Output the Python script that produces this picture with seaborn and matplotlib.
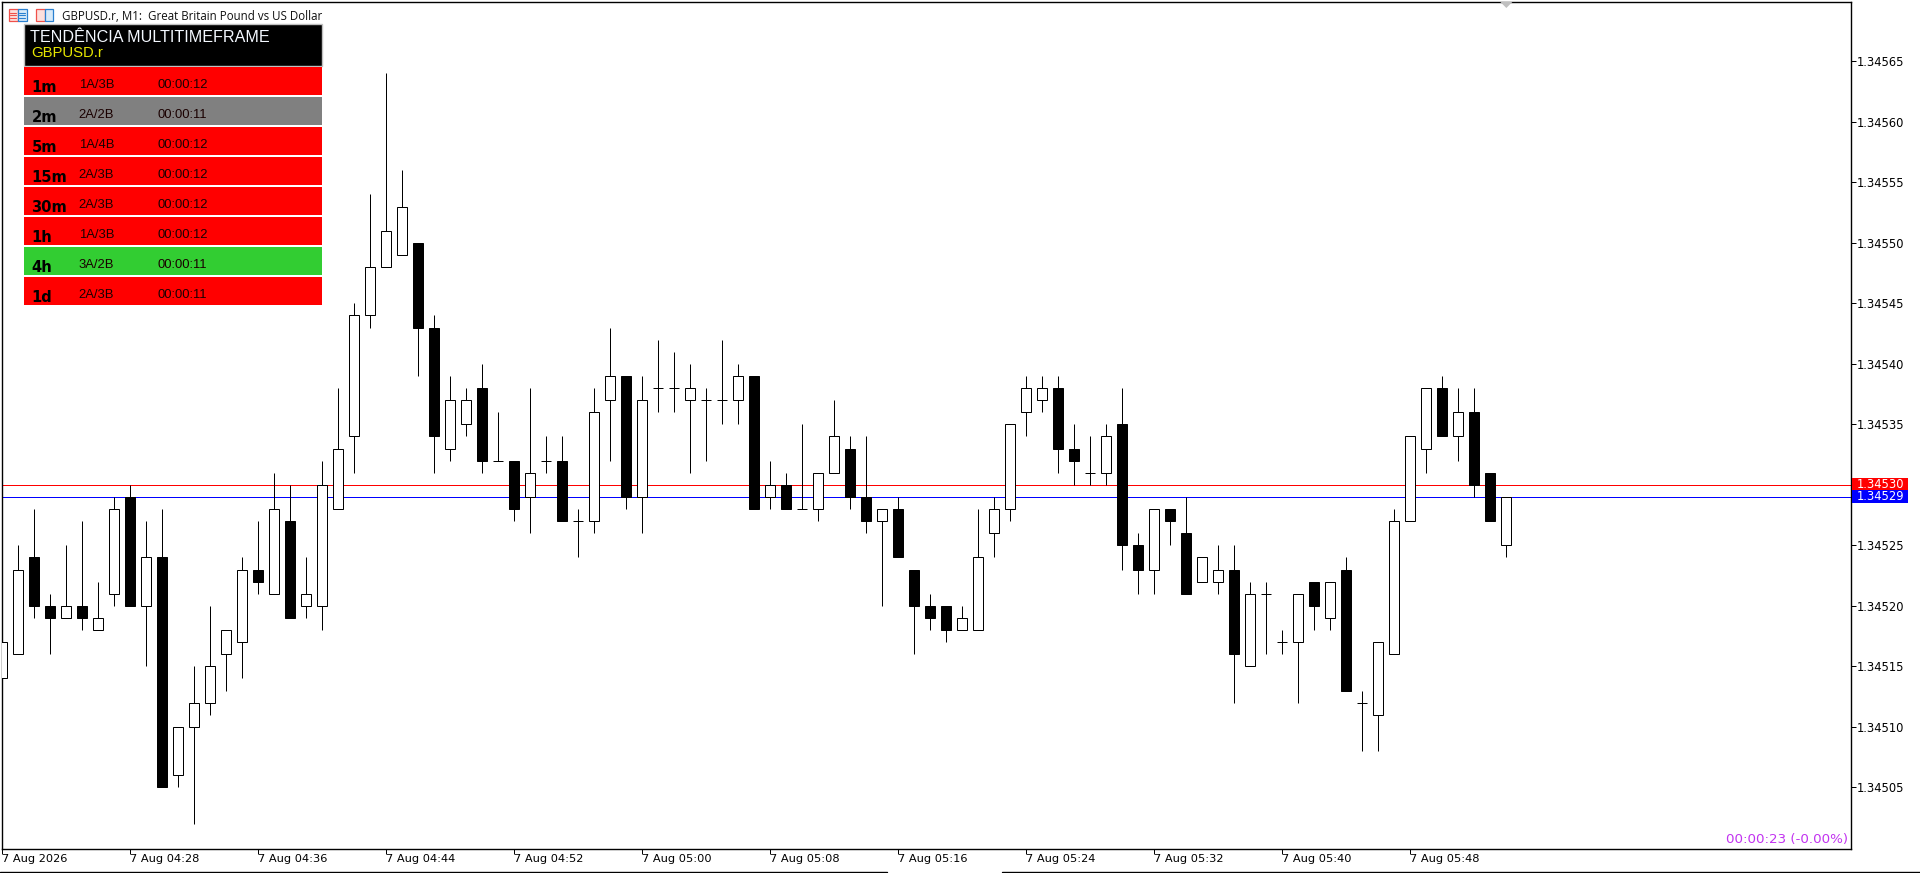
import pandas as pd
import matplotlib
matplotlib.use("Agg")
import matplotlib.pyplot as plt
from matplotlib.patches import Rectangle, Polygon
import seaborn as sns

W, H = 1920, 873

# candles, in 1e-5 above 1.34000
opens = [514,516,524,520,519,520,518,521,529,520,524,506,510,512,516,517,523,521,527,520,
         520,528,534,544,548,549,550,543,533,535,538,532,532,529,532,532,527,527,537,539,
         529,538,538,537,537,537,537,539,529,530,528,528,531,533,529,527,528,523,520,520,
         518,518,526,528,536,537,538,533,531,531,535,525,523,528,526,522,522,523,515,521,
         517,517,522,519,523,512,511,516,527,533,538,534,536,531,525]
highs = [517,525,528,521,525,527,522,529,530,527,528,510,515,520,518,524,527,531,530,524,
         532,538,545,554,564,556,550,544,539,538,540,536,532,538,534,534,528,538,543,539,
         539,542,541,540,538,542,540,539,532,531,535,531,537,534,534,528,529,523,521,520,
         520,528,529,535,539,539,539,535,534,535,538,526,528,528,529,524,525,525,522,522,
         518,521,522,522,524,513,517,528,534,538,539,538,538,531,529]
lows = [514,516,519,516,519,518,518,520,520,515,505,505,502,511,513,514,521,521,519,519,
        518,528,531,543,548,549,539,531,532,534,531,532,527,526,531,527,524,526,532,528,
        526,536,536,531,532,535,535,528,528,528,528,527,531,528,526,520,524,516,518,517,
        518,518,524,527,534,536,531,530,530,530,523,521,521,525,521,522,521,512,515,516,
        516,512,518,518,513,508,508,516,527,531,534,532,529,527,524]
closes = [517,523,520,519,520,519,519,528,520,524,505,510,512,515,518,523,522,528,519,521,
          530,533,544,548,551,553,543,534,537,537,532,532,528,531,532,527,527,536,539,529,
          537,538,538,538,537,537,539,528,530,528,528,531,534,529,527,528,524,520,519,518,
          519,524,528,535,538,538,533,532,531,534,525,523,528,527,521,524,523,516,521,521,
          517,521,520,522,513,512,517,527,534,538,534,536,530,527,529]

time_ticks = [0, 8, 16, 24, 32, 40, 48, 56, 64, 72, 80, 88]
time_labels = ["7 Aug 2026", "7 Aug 04:28", "7 Aug 04:36", "7 Aug 04:44", "7 Aug 04:52", "7 Aug 05:00",
               "7 Aug 05:08", "7 Aug 05:16", "7 Aug 05:24", "7 Aug 05:32", "7 Aug 05:40", "7 Aug 05:48"]
price_ticks = [1.34505, 1.34510, 1.34515, 1.34520, 1.34525, 1.34530, 1.34535,
               1.34540, 1.34545, 1.34550, 1.34555, 1.34560, 1.34565]
ask_price = 1.34530
bid_price = 1.34529

row_tf = ["1m", "2m", "5m", "15m", "30m", "1h", "4h", "1d"]
row_ratio = ["1A/3B", "2A/2B", "1A/4B", "2A/3B", "2A/3B", "1A/3B", "3A/2B", "2A/3B"]
row_timer = ["00:00:12", "00:00:11", "00:00:12", "00:00:12", "00:00:12", "00:00:12", "00:00:11", "00:00:11"]
row_color = ["#ff0000", "#808080", "#ff0000", "#ff0000", "#ff0000", "#ff0000", "#32cd32", "#ff0000"]

df = pd.DataFrame({"bar": range(len(opens)), "open": opens, "high": highs, "low": lows, "close": closes})
for c in ["open", "high", "low", "close"]:
    df[c] = 1.34 + df[c] * 1e-5
df["body_low"] = df[["open", "close"]].min(axis=1)
df["body_h"] = (df["close"] - df["open"]).abs()
up = df[df["close"] >= df["open"]]
down = df[df["close"] < df["open"]]

sns.set_theme(style="white")
plt.rcParams["font.family"] = ["DejaVu Sans"]
px = 0.72  # one pixel in points at dpi 100

fig = plt.figure(figsize=(W / 100, H / 100), dpi=100, facecolor="white")
x0, x1, y_top, y_bot = 2.0, 1851.0, 1.5, 848.5
ax = fig.add_axes([x0 / W, 1 - y_bot / H, (x1 - x0) / W, (y_bot - y_top) / H])

ax.axhline(ask_price, color="#ff0000", lw=px, zorder=1)
ax.axhline(bid_price, color="#0000ff", lw=px, zorder=1)
ax.vlines(df["bar"], df["low"], df["high"], color="black", lw=px, zorder=2)
sns.barplot(data=up, x="bar", y="body_h", bottom=up["body_low"].values, native_scale=True, width=0.625,
            color="white", saturation=1, edgecolor="black", linewidth=px, errorbar=None, ax=ax, zorder=3)
sns.barplot(data=down, x="bar", y="body_h", bottom=down["body_low"].values, native_scale=True, width=0.625,
            color="black", saturation=1, edgecolor="black", linewidth=px, errorbar=None, ax=ax, zorder=3)

ax.set_xlim(-0.02, 115.54)
ax.set_ylim(1.3449995, 1.3456995)
ax.set(xlabel="", ylabel="")
ax.yaxis.tick_right()
ax.set_yticks(price_ticks, [f"{p:.5f}" for p in price_ticks])
ax.set_xticks(time_ticks, time_labels, ha="left")
ax.tick_params(axis="y", length=3.6, width=px, pad=0.6, labelsize=8.3, labelcolor="black", color="black",
               right=True, left=False)
ax.tick_params(axis="x", length=3.6, width=px, pad=0.6, labelsize=8.2, labelcolor="black", color="black",
               bottom=True)
for s in ax.spines.values():
    s.set_color("black")
    s.set_linewidth(1.0)
ax.grid(False)
fig.canvas.draw()

# overlay in pixel coordinates for the terminal chrome
ov = fig.add_axes([0, 0, 1, 1], zorder=5)
ov.set_xlim(0, W)
ov.set_ylim(H, 0)
ov.axis("off")
ov.patch.set_alpha(0)


def ypix(price):
    return H - ax.transData.transform((0, price))[1]


# bid / ask tags
for price, col in [(ask_price, "#ff0000"), (bid_price, "#0000ff")]:
    yy = ypix(price)
    ov.add_patch(Rectangle((1852, yy - 7), 56, 13.5, fc=col, ec="none"))
    ov.text(1857, yy, f"{price:.5f}", color="white", fontsize=8.3, va="center", ha="left")

ov.text(1848, 840, "00:00:23 (-0.00%)", color="#c233f0", fontsize=9.6, ha="right", va="center")

# header text and icons
ov.text(62, 16, "GBPUSD.r, M1:  Great Britain Pound vs US Dollar", fontsize=8.3, color="#101010",
        family="Open Sans", va="center", ha="left")
for xa, xb, col, ec in [(8.5, 17.5, "#fde0dd", "#f0504a"), (17.5, 26.5, "#d8eaf9", "#2a80d0"),
                        (36, 44.5, "#fde0dd", "#f0504a"), (44.5, 53, "#d8eaf9", "#2a80d0")]:
    ov.add_patch(Rectangle((xa, 9), xb - xa, 12, fc=col, ec=ec, lw=0.9))
for xa, xb, ec in [(10, 16, "#f0504a"), (19, 25, "#2a80d0")]:
    for yl in [12.5, 15, 17.5]:
        ov.plot([xa, xb], [yl, yl], color=ec, lw=0.8)

# trend panel
ov.add_patch(Rectangle((24, 23.5), 298, 42.5, fc="black", ec="#c0c0c0", lw=1.0))
ov.text(30.5, 37, "TENDÊNCIA MULTITIMEFRAME", color="#f4f8ff", fontsize=11.6, family="Liberation Sans",
        va="center", ha="left")
ov.text(31.5, 53, "GBPUSD.r", color="#e6e600", fontsize=10.7, family="Liberation Sans", va="center", ha="left")
for k in range(len(row_tf)):
    top = 67 + 30 * k
    ov.add_patch(Rectangle((24, top), 298, 28, fc=row_color[k], ec="none"))
    ov.text(31.5, top + 20.5, row_tf[k], fontsize=10.6, fontweight="bold", color="black", va="center", ha="left")
    ov.text(114, top + 17.5, row_ratio[k], fontsize=9.4, family="Liberation Sans", color="#1a0000",
            va="center", ha="right")
    ov.text(158, top + 17.5, row_timer[k], fontsize=9.4, family="Liberation Sans", color="#1a0000",
            va="center", ha="left")

# scroll marker above the last bar and the tab bar line
mark_x = ax.transData.transform((len(opens) - 1, 0))[0]
ov.add_patch(Polygon([(mark_x - 6, 2), (mark_x + 6, 2), (mark_x, 8)], fc="#c0c0c0", ec="none"))
ov.plot([0, 887], [872, 872], color="black", lw=1.0)
ov.plot([1002, W], [872, 872], color="black", lw=1.0)

fig.savefig("out.png", dpi=100)
